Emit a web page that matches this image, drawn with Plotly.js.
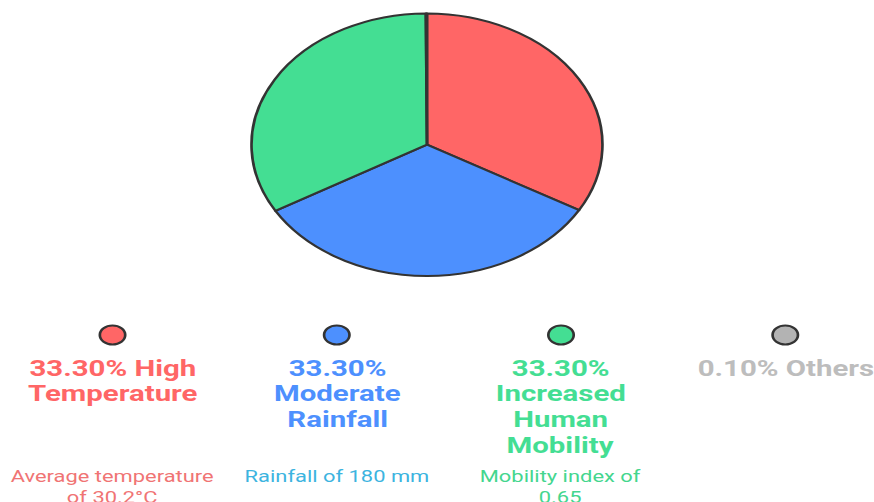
<!DOCTYPE html>
<html>
<head>
<meta charset="utf-8">
<script src="https://cdn.plot.ly/plotly-3.0.1.min.js"></script>
<style>
  html, body { margin: 0; padding: 0; background: #ffffff; overflow: hidden; }
  #wrap { width: 874px; height: 502px; overflow: hidden; }
  #chart { width: 654px; height: 502px; transform: scaleX(1.3364); transform-origin: 0 0; }
</style>
</head>
<body>
<div id="wrap"><div id="chart"></div></div>
<script>
// ---- data ----
const categories = ["High Temperature", "Moderate Rainfall", "Increased Human Mobility", "Others"];
const values = [33.3, 33.3, 33.3, 0.1];
const percentLabels = ["33.30%", "33.30%", "33.30%", "0.10%"];
const titleLabels = [
  "33.30% High<br>Temperature",
  "33.30%<br>Moderate<br>Rainfall",
  "33.30%<br>Increased<br>Human<br>Mobility",
  "0.10% Others"
];
const descriptions = [
  "Average temperature<br>of 30.2°C",
  "Rainfall of 180 mm",
  "Mobility index of<br>0.65",
  ""
];
const colors = ["#ff6666", "#4d90fe", "#44de93", "#b3b3b3"];
const titleColors = ["#ff6666", "#4d90fe", "#44de93", "#bdbdbd"];
const descColors = ["#f07474", "#3cb4e0", "#44d68e", "#bdbdbd"];

// ---- layout helpers ----
const W = 654, H = 502;
const colIdx = categories.map((_, i) => i);

const pie = {
  type: "pie",
  labels: categories,
  values: values,
  sort: false,
  direction: "clockwise",
  rotation: 0,
  textinfo: "none",
  hoverinfo: "label+percent",
  marker: { colors: colors, line: { color: "#333333", width: 2 } },
  domain: { x: [188.2 / W, 450.8 / W], y: [(H - 276) / H, (H - 13.4) / H] },
  showlegend: false
};

const markers = {
  type: "scatter",
  mode: "markers",
  x: colIdx,
  y: colIdx.map(() => (H - 335) / H),
  marker: { size: 19, color: colors, line: { color: "#333333", width: 2 } },
  hoverinfo: "skip",
  showlegend: false,
  cliponaxis: false
};

const annotations = [];
const titleLineGap = 25.8, titleFirst = 368;
colIdx.forEach(i => {
  titleLabels[i].split("<br>").forEach((line, k) => {
    annotations.push({
      xref: "x", yref: "paper", x: i, y: (H - (titleFirst + k * titleLineGap)) / H,
      xanchor: "center", yanchor: "middle", showarrow: false,
      text: line, align: "center",
      font: { family: "Roboto, Arial, sans-serif", size: 22, weight: 700, color: titleColors[i] }
    });
  });
  if (descriptions[i]) {
    annotations.push({
      xref: "x", yref: "paper", x: i, y: (H - 465) / H,
      xanchor: "center", yanchor: "top", showarrow: false,
      text: descriptions[i], align: "center",
      font: { family: "Roboto, Arial, sans-serif", size: 16.4, color: descColors[i] }
    });
  }
});

const pxStep = 167.8, px0 = 84.2;
const layout = {
  width: W, height: H,
  margin: { l: 0, r: 0, t: 0, b: 0 },
  paper_bgcolor: "#ffffff",
  plot_bgcolor: "rgba(0,0,0,0)",
  xaxis: { range: [-px0 / pxStep, (W - px0) / pxStep], visible: false, fixedrange: true },
  yaxis: { range: [0, 1], visible: false, fixedrange: true },
  annotations: annotations,
  showlegend: false
};

Plotly.newPlot("chart", [pie, markers], layout, { displayModeBar: false, staticPlot: true });
</script>
</body>
</html>
